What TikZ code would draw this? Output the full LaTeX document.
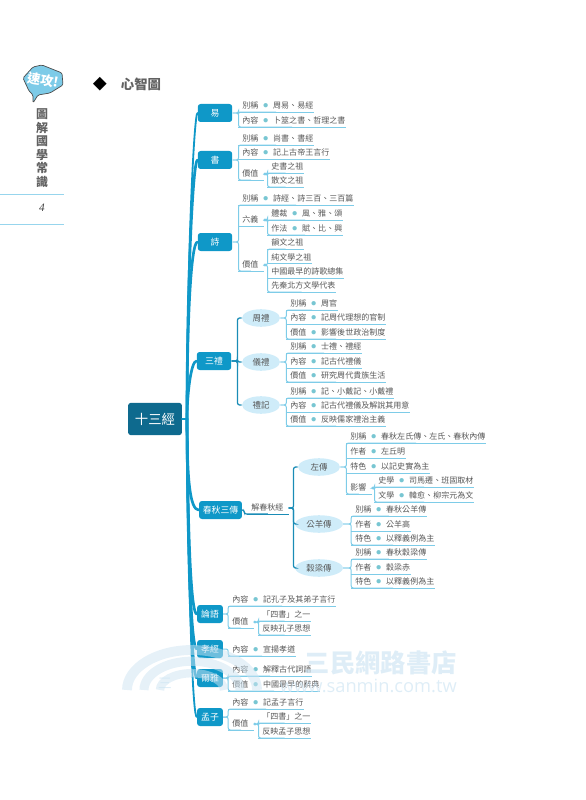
\documentclass[tikz,border=0pt]{standalone}
\usepackage{fontspec}
\setmainfont{Noto Sans CJK TC}
\newfontfamily\latinfont{Open Sans}
\newfontfamily\numfont{Liberation Serif}
\usepackage{tikz}
\usetikzlibrary{arrows.meta,positioning,shapes.geometric,calc}
\definecolor{trunkC}{RGB}{15,152,200}
\definecolor{rootC}{RGB}{14,106,142}
\definecolor{linkC}{RGB}{126,204,232}
\definecolor{dlinkC}{RGB}{26,140,182}
\definecolor{ovalC}{RGB}{207,236,249}
\definecolor{dotC}{RGB}{120,198,210}
\definecolor{badgeC}{RGB}{125,203,232}
\definecolor{markC}{RGB}{205,228,242}
\newcommand{\rowdot}{{\color{dotC}\fontsize{3.4}{3}\selectfont ●}}
\newcommand{\kv}[2]{\hspace*{2.84pt}#1\makebox[10.6pt][c]{\raisebox{1.1pt}{\rowdot}}#2\hspace*{0.5pt}}
\newcommand{\tv}[1]{\hspace*{2.84pt}#1\hspace*{0.5pt}}
\newcommand{\lv}[1]{\hspace*{2.84pt}#1\hspace*{3.5pt}}

\begin{document}
\begin{tikzpicture}[x=0.025cm, y=-0.025cm,
  rowfont/.style={font=\fontsize{5.7}{7}\selectfont, text=black!66},
  uline/.style={draw=linkC, line width=0.6pt},
  dline/.style={draw=dlinkC, line width=0.7pt},
  rowtxt/.style={rowfont, anchor=south west, inner xsep=0pt, inner ysep=1.2pt,
                 text height=4.8pt, text depth=0.9pt},
  row/.style={rowtxt, append after command={(\tikzlastnode.south west) edge[uline] (\tikzlastnode.south east)}},
  drow/.style={rowtxt, append after command={(\tikzlastnode.south west) edge[dline] (\tikzlastnode.south east)}},
  rootn/.style={rectangle, rounded corners=2pt, fill=rootC, text=white, inner sep=0pt,
                font=\fontsize{9.5}{11}\selectfont, minimum width=38.3pt, minimum height=23pt},
  brch/.style={rectangle, rounded corners=2pt, fill=trunkC, text=white, inner sep=0pt,
               font=\fontsize{6.3}{8}\selectfont, minimum width=24.5pt, minimum height=12.8pt},
  oval/.style={ellipse, fill=ovalC, text=black!66, inner sep=0pt,
               font=\fontsize{6}{8}\selectfont, minimum width=27pt, minimum height=12.5pt},
  trunk/.style={draw=trunkC, line width=1.9pt, line cap=round},
  twig/.style={draw=trunkC, line width=1.3pt, line cap=round},
  link/.style={draw=linkC, line width=0.7pt, rounded corners=1.5pt},
  dlink/.style={draw=dlinkC, line width=0.9pt, rounded corners=1.5pt},
  dotlink/.style={link, {Circle[length=2pt]}-},
  tabline/.style={draw=badgeC!80, line width=0.6pt},
  wband/.style={draw=markC, opacity=0.5},
  wtext/.style={text=markC, opacity=0.65}]
  \useasboundingbox (0,0) rectangle (585,800);

  % side tab
  \draw[tabline] (0,194) -- (64,194);
  \draw[tabline] (0,224) -- (64,224);
  \draw[fill=badgeC, draw=black!70, line width=0.5pt, rounded corners=1pt]
    (23,78) -- (33,67) -- (42,65) -- (62,73) -- (63,85) -- (50,93) -- (38,95)
    -- (33,103) -- (33,95) -- (29,91) -- cycle;
  \node[text=white, font=\fontsize{9.3}{10}\selectfont\bfseries, rotate=-10, inner sep=0pt] (badge) at (43,80) {速攻!};
  \node[align=center, text=black!62, font=\fontsize{8.5}{9.6}\selectfont\bfseries, inner sep=0pt] (title) at (42,148)
    {圖\\解\\國\\學\\常\\識};
  \node[text=black!75, font=\fontsize{8}{10}\selectfont\numfont\itshape, inner sep=0pt] (page) at (42,208) {4};
  \node[font=\fontsize{10}{12}\selectfont, inner sep=0pt] (mark) at (100,84) {◆};
  \node[text=black!62, font=\fontsize{9.5}{11}\selectfont\bfseries, inner sep=0pt] (head) at (141,84) {心智圖};

  % root and branches
  \node[rootn] (root) at (155,419) {十三經};
  \coordinate (hub) at (187,419);
  \node[brch] (yi) at (215,113) {易};
  \node[brch] (shu) at (215,160) {書};
  \node[brch] (shi) at (215,242) {詩};
  \node[brch] (sanli) at (214,361) {三禮};
  \node[brch, minimum width=30.5pt] (cq) at (220.5,510) {春秋三傳};
  \node[brch, minimum width=18.4pt] (lun) at (210,614) {論語};
  \node[brch, minimum width=18.4pt] (xiao) at (210,649) {孝經};
  \node[brch, minimum width=18.4pt] (erya) at (210,678) {爾雅};
  \node[brch, minimum width=18.4pt] (meng) at (210,717) {孟子};
  \draw[trunk] (root.east) -- (hub);
  \draw[twig] (hub) .. controls (187,260) and (194,113) .. (yi.west);
  \draw[trunk] (hub) .. controls (187,280) and (193,160) .. (shu.west);
  \draw[trunk] (hub) .. controls (187,320) and (191,242) .. (shi.west);
  \draw[trunk] (hub) .. controls (187,395) and (191,361) .. (sanli.west);
  \draw[trunk] (hub) .. controls (187,480) and (190,510) .. (cq.west);
  \draw[trunk] (hub) .. controls (188,560) and (192,614) .. (lun.west);
  \draw[trunk] (hub) .. controls (188,580) and (192,649) .. (xiao.west);
  \draw[trunk] (hub) .. controls (188,600) and (193,678) .. (erya.west);
  \draw[twig] (hub) .. controls (189,620) and (193,717) .. (meng.west);

  % yi
  \node[row] (yiA) at (238,112) {\kv{別稱}{周易、易經}};
  \node[row] (yiB) at (238,127) {\kv{內容}{卜筮之書、哲理之書}};
  \draw[link] (yi.east) -- ++(6,0) |- (yiA.south);
  \draw[link] (yi.east) -- ++(6,0) |- (yiB.south);

  % shu
  \node[row] (shuA) at (238,145) {\kv{別稱}{尚書、書經}};
  \node[row] (shuB) at (238,159) {\kv{內容}{記上古帝王言行}};
  \node[row] (shuC) at (238,180) {\lv{價值}};
  \node[row] (shuD) at (267,173) {\tv{史書之祖}};
  \node[row] (shuE) at (267,187) {\tv{散文之祖}};
  \draw[link] (shu.east) -- ++(6,0) |- (shuA.south);
  \draw[link] (shu.east) -- ++(6,0) |- (shuC.south);
  \draw[dotlink] (shuC.east) -- ++(4,0) |- (shuD.south);
  \draw[link] (shuC.east) -- ++(4,0) |- (shuE.south);

  % shi
  \node[row] (shiA) at (238,205) {\kv{別稱}{詩經、詩三百、三百篇}};
  \node[row] (shiB) at (238,226) {\lv{六義}};
  \node[row] (shiC) at (267,220) {\kv{體裁}{風、雅、頌}};
  \node[row] (shiD) at (267,235) {\kv{作法}{賦、比、興}};
  \node[row] (shiE) at (238,271) {\lv{價值}};
  \node[row] (shiF) at (267,249) {\tv{韻文之祖}};
  \node[row] (shiG) at (267,263.5) {\tv{純文學之祖}};
  \node[row] (shiH) at (267,278) {\tv{中國最早的詩歌總集}};
  \node[row] (shiI) at (267,292) {\tv{先秦北方文學代表}};
  \draw[link] (shi.east) -- ++(6,0) |- (shiA.south);
  \draw[link] (shi.east) -- ++(6,0) |- (shiE.south);
  \draw[dotlink] (shiB.east) -- ++(4,0) |- (shiC.south);
  \draw[link] (shiB.east) -- ++(4,0) |- (shiD.south);
  \draw[dotlink] (shiE.east) -- ++(4,0) |- (shiF.south);
  \draw[link] (shiE.east) -- ++(4,0) |- (shiI.south);

  % sanli
  \node[oval] (zhou) at (261,318) {周禮};
  \node[oval] (yili) at (261,362) {儀禮};
  \node[oval] (liji) at (261,405) {禮記};
  \draw[dlink] (sanli.east) -- ++(6,0) |- (zhou.west);
  \draw[dlink] (sanli.east) -- ++(6,0) |- (yili.west);
  \draw[dlink] (sanli.east) -- ++(6,0) |- (liji.west);
  \node[row] (zhouA) at (286,310) {\kv{別稱}{周官}};
  \node[row] (zhouB) at (286,324) {\kv{內容}{記周代理想的官制}};
  \node[row] (zhouC) at (286,339) {\kv{價值}{影響後世政治制度}};
  \draw[link] (zhou.east) -- ++(6,0) |- (zhouA.south);
  \draw[link] (zhou.east) -- ++(6,0) |- (zhouC.south);
  \node[row] (yiliA) at (286,353) {\kv{別稱}{士禮、禮經}};
  \node[row] (yiliB) at (286,368) {\kv{內容}{記古代禮儀}};
  \node[row] (yiliC) at (286,382) {\kv{價值}{研究周代貴族生活}};
  \draw[link] (yili.east) -- ++(6,0) |- (yiliA.south);
  \draw[link] (yili.east) -- ++(6,0) |- (yiliC.south);
  \node[row] (lijiA) at (286,398) {\kv{別稱}{記、小戴記、小戴禮}};
  \node[row] (lijiB) at (286,412) {\kv{內容}{記古代禮儀及解說其用意}};
  \node[row] (lijiC) at (286,426) {\kv{價值}{反映儒家禮治主義}};
  \draw[link] (liji.east) -- ++(6,0) |- (lijiA.south);
  \draw[link] (liji.east) -- ++(6,0) |- (lijiC.south);

  % chunqiu
  \node[drow] (jie) at (247,514) {\lv{解春秋經}};
  \draw[dlink] (cq.east) -- ++(2,0) |- (jie.south);
  \node[oval, minimum width=30pt] (zuo) at (319,467) {左傳};
  \node[oval, minimum width=34pt] (gong) at (319,524) {公羊傳};
  \node[oval, minimum width=34pt] (gu) at (319,568) {穀梁傳};
  \draw[dlink] (jie.east) -- ++(5,0) |- (zuo.west);
  \draw[dlink] (jie.east) -- ++(5,0) |- (gong.west);
  \draw[dlink] (jie.east) -- ++(5,0) |- (gu.west);
  \node[row] (zuoA) at (346,443) {\kv{別稱}{春秋左氏傳、左氏、春秋內傳}};
  \node[row] (zuoB) at (346,458) {\kv{作者}{左丘明}};
  \node[row] (zuoC) at (346,473) {\kv{特色}{以記史實為主}};
  \node[row] (zuoD) at (346,494) {\lv{影響}};
  \node[row] (zuoE) at (374,487) {\kv{史學}{司馬遷、班固取材}};
  \node[row] (zuoF) at (374,502) {\kv{文學}{韓愈、柳宗元為文}};
  \draw[link] (zuo.east) -- ++(6,0) |- (zuoA.south);
  \draw[link] (zuo.east) -- ++(6,0) |- (zuoD.south);
  \draw[dotlink] (zuoD.east) -- ++(3,0) |- (zuoE.south);
  \draw[link] (zuoD.east) -- ++(3,0) |- (zuoF.south);
  \node[row] (gongA) at (351,516) {\kv{別稱}{春秋公羊傳}};
  \node[row] (gongB) at (351,531) {\kv{作者}{公羊高}};
  \node[row] (gongC) at (351,545) {\kv{特色}{以釋義例為主}};
  \draw[link] (gong.east) -- ++(8,0) |- (gongA.south);
  \draw[link] (gong.east) -- ++(8,0) |- (gongC.south);
  \node[row] (guA) at (351,559) {\kv{別稱}{春秋穀梁傳}};
  \node[row] (guB) at (351,574) {\kv{作者}{穀梁赤}};
  \node[row] (guC) at (351,588) {\kv{特色}{以釋義例為主}};
  \draw[link] (gu.east) -- ++(8,0) |- (guA.south);
  \draw[link] (gu.east) -- ++(8,0) |- (guC.south);

  % lunyu, xiaojing, erya, mengzi
  \node[row] (lunA) at (228,606) {\kv{內容}{記孔子及其弟子言行}};
  \node[row] (lunB) at (228,628) {\lv{價值}};
  \node[row] (lunC) at (258,621) {\tv{「四書」之一}};
  \node[row] (lunD) at (258,635) {\tv{反映孔子思想}};
  \draw[link] (lun.east) -- ++(5,0) |- (lunA.south);
  \draw[link] (lun.east) -- ++(5,0) |- (lunB.south);
  \draw[dotlink] (lunB.east) -- ++(5,0) |- (lunC.south);
  \draw[link] (lunB.east) -- ++(5,0) |- (lunD.south);
  \node[row] (xiaoA) at (228,656) {\kv{內容}{宣揚孝道}};
  \draw[link] (xiao.east) -- ++(5,0) |- (xiaoA.south);
  \node[row] (eryaA) at (228,676) {\kv{內容}{解釋古代詞語}};
  \node[row] (eryaB) at (228,691) {\kv{價值}{中國最早的辭典}};
  \draw[link] (erya.east) -- ++(5,0) |- (eryaA.south);
  \draw[link] (erya.east) -- ++(5,0) |- (eryaB.south);
  \node[row] (mengA) at (228,709) {\kv{內容}{記孟子言行}};
  \node[row] (mengB) at (228,730) {\lv{價值}};
  \node[row] (mengC) at (258,723) {\tv{「四書」之一}};
  \node[row] (mengD) at (258,738) {\tv{反映孟子思想}};
  \draw[link] (meng.east) -- ++(5,0) |- (mengA.south);
  \draw[link] (meng.east) -- ++(5,0) |- (mengB.south);
  \draw[dotlink] (mengB.east) -- ++(5,0) |- (mengC.south);
  \draw[link] (mengB.east) -- ++(5,0) |- (mengD.south);

  % watermark
  \draw[wband, line width=7pt] (127,690) arc[start angle=180, end angle=0, x radius=1.625cm, y radius=1.0cm];
  \draw[wband, line width=6.5pt] (144,690) arc[start angle=180, end angle=0, x radius=1.2cm, y radius=0.72cm];
  \draw[wband, line width=6pt] (160,690) arc[start angle=180, end angle=0, x radius=0.8cm, y radius=0.42cm];
  \node[wtext, font=\fontsize{10}{12}\selectfont] (wlogo) at (165,683) {三};
  \node[wtext, font=\fontsize{18}{20}\selectfont\bfseries, anchor=east, inner sep=0pt] (wname) at (457,663) {三民網路書店};
  \node[wtext, font=\fontsize{13}{15}\selectfont\latinfont, anchor=east, inner sep=0pt] (wurl) at (457,686) {www.sanmin.com.tw};
\end{tikzpicture}
\end{document}
